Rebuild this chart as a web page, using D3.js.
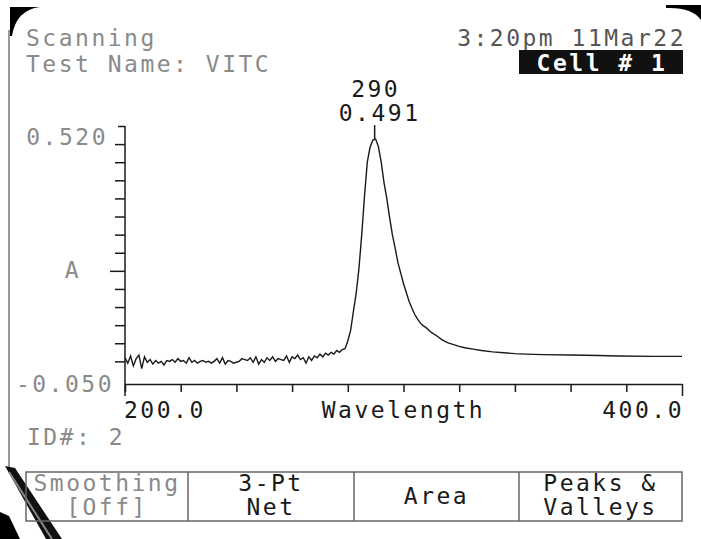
<!DOCTYPE html>
<html>
<head>
<meta charset="utf-8">
<script src="https://cdn.jsdelivr.net/npm/d3@7/dist/d3.min.js"></script>
<style>
  html, body { margin: 0; padding: 0; background: #fff; }
  svg { display: block; }
  text { font-family: "DejaVu Sans Mono", "Liberation Mono", monospace; font-size: 23px; letter-spacing: 2.5px; }
</style>
</head>
<body>
<svg id="chart" width="701" height="539"></svg>
<script>
// ---------- data ----------
const wavelengths = [
  200,201,202,203,204,205,206,207,208,209,210,211,212,213,214,215,216,217,218,219,
  220,221,222,223,224,225,226,227,228,229,230,231,232,233,234,235,236,237,238,239,
  240,241,242,243,244,245,246,247,248,249,250,251,252,253,254,255,256,257,258,259,
  260,261,262,263,264,265,266,267,268,269,270,271,272,273,274,275,276,277,278,279,
  280,281,282,283,284,285,286,287,288,289,290,291,292,293,294,295,296,297,298,299,
  300,301,302,303,304,305,306,307,308,310,312,314,316,318,320,322,325,328,332,336,
  340,344,350,360,370,377,390,400
];
const absorbance = [
  0.008,-0.004,0.012,-0.010,0.006,0.014,-0.016,0.010,-0.002,0.004,-0.006,0.002,-0.004,0.000,-0.008,0.002,0.000,0.004,-0.002,0.006,
  0.000,0.002,-0.004,0.008,-0.002,0.002,-0.004,0.000,0.002,-0.002,0.000,-0.004,0.000,0.006,-0.004,0.008,-0.006,0.002,0.000,-0.004,
  -0.002,0.000,0.006,0.004,0.002,0.008,-0.002,0.010,-0.006,0.004,-0.002,0.008,0.002,0.010,0.000,0.006,0.004,0.002,0.012,-0.002,
  0.010,0.006,0.014,0.004,0.008,-0.004,0.010,0.002,0.012,0.008,0.016,0.010,0.018,0.014,0.020,0.016,0.024,0.020,0.026,0.028,
  0.045,0.068,0.110,0.150,0.205,0.280,0.365,0.440,0.473,0.489,0.491,0.474,0.440,0.395,0.360,0.318,0.280,0.250,0.218,0.195,
  0.172,0.152,0.133,0.118,0.104,0.094,0.085,0.079,0.075,0.064,0.056,0.047,0.041,0.037,0.033,0.030,0.027,0.024,0.021,0.019,
  0.017,0.016,0.015,0.014,0.013,0.012,0.011,0.011
];
const xTickValues = [200,220,240,260,280,300,320,340,360,380,400];
const yTickValues = [0,0.04,0.08,0.12,0.16,0.20,0.24,0.28,0.32,0.36,0.40,0.44,0.48,0.52];
const yLongTick = [0.20];
const xEndLabels = ["200.0","400.0"];
const yEndLabels = ["0.520","-0.050"];
const xTitle = "Wavelength";
const yTitle = "A";
const peakWavelength = 290;
const peakLabel = ["290","0.491"];
const headerLeft = ["Scanning","Test Name: VITC"];
const headerRight = "3:20pm 11Mar22";
const cellLabel = "Cell # 1";
const idLabel = "ID#: 2";
const buttons = [["Smoothing","[Off]"],["3-Pt","Net"],["Area"],["Peaks &","Valleys"]];

// ---------- setup ----------
const svg = d3.select("#chart");
const x = d3.scaleLinear().domain([200,400]).range([125,682]);
const y = d3.scaleLinear().domain([-0.05,0.52]).range([384,126]);
const ink = "#1a1a1a";
const grey = "#8a8a8a";

// bezel decorations
svg.append("path").attr("d","M10,7 L40,7 Q16,10 12,36 L10,36 Z").attr("fill","#000");
svg.append("path").attr("d","M666,5 L701,5 L701,20 Q692,7 666,8 Z").attr("fill","#000");
svg.append("line").attr("x1",9).attr("x2",9).attr("y1",30).attr("y2",470).attr("stroke","#777").attr("stroke-width",1.5);
svg.append("path").attr("d","M5,466 L15,468 L62,539 L46,539 Z").attr("fill","#111");
svg.append("path").attr("d","M9,472 L52,539").attr("stroke","#888").attr("stroke-width",2);
svg.append("path").attr("d","M0,512 L9,516 L20,539 L0,539 Z").attr("fill","#000");

// header
const hl = svg.append("g").attr("fill",grey).style("font-size","22px").style("letter-spacing","3px");
hl.append("text").attr("x",26).attr("y",46).text(headerLeft[0]);
hl.append("text").attr("x",26).attr("y",72).text(headerLeft[1]);
svg.append("text").attr("x",686).attr("y",46).attr("text-anchor","end").attr("fill","#555").text(headerRight);
svg.append("rect").attr("x",519).attr("y",50).attr("width",164).attr("height",24).attr("fill","#111");
svg.append("text").attr("x",602).attr("y",71).attr("text-anchor","middle").attr("fill","#fff")
  .attr("font-weight","bold").text(cellLabel);

// y axis
const yAxis = d3.axisLeft(y).tickValues(yTickValues).tickSize(10).tickSizeOuter(0).tickFormat("");
const gy = svg.append("g").attr("transform",`translate(${x(200)},0)`).call(yAxis);
gy.selectAll("path,line").attr("stroke",ink).attr("stroke-width",1.5);
gy.selectAll(".tick").filter(d => yLongTick.includes(d)).select("line").attr("x2",-15);
gy.selectAll(".tick").filter(d => d === 0.52).select("line").attr("x2",-7);
gy.select(".domain").attr("d",`M0,${y(0.52)}V${y(-0.05)+12}`);

// x axis
const xAxis = d3.axisBottom(x).tickValues(xTickValues).tickSize(8).tickSizeOuter(0).tickFormat("");
const gx = svg.append("g").attr("transform",`translate(0,${y(-0.05)})`).call(xAxis);
gx.selectAll("path,line").attr("stroke",ink).attr("stroke-width",1.5);
gx.selectAll(".tick").filter(d => d === 400).select("line").attr("y2",12);

// axis labels
svg.append("text").attr("x",x(200)-17).attr("y",y(0.52)+19).attr("text-anchor","end").attr("fill",grey).text(yEndLabels[0]);
svg.append("text").attr("x",x(200)-11).attr("y",y(-0.05)+8).attr("text-anchor","end").attr("fill",grey).text(yEndLabels[1]);
svg.append("text").attr("x",x(200)-52).attr("y",y(0.2)+7).attr("text-anchor","middle").attr("fill",grey).text(yTitle);
svg.append("text").attr("x",x(200)-1).attr("y",418).attr("fill",ink).text(xEndLabels[0]);
svg.append("text").attr("x",x(400)+2).attr("y",418).attr("text-anchor","end").attr("fill",ink).text(xEndLabels[1]);
svg.append("text").attr("x",x(300)).attr("y",418).attr("text-anchor","middle").attr("fill",ink).text(xTitle);
svg.append("text").attr("x",27).attr("y",445).attr("fill",grey).text(idLabel);

// spectrum
const data = wavelengths.map((w,i) => ({w, a: absorbance[i]}));
const line = d3.line().x(d => x(d.w)).y(d => y(d.a)).curve(d3.curveLinear);
svg.append("path").datum(data).attr("d",line).attr("fill","none").attr("stroke",ink).attr("stroke-width",1.4);

// peak annotation
const peakA = absorbance[wavelengths.indexOf(peakWavelength)];
svg.append("line").attr("x1",x(peakWavelength)-1).attr("x2",x(peakWavelength)-1)
  .attr("y1",y(peakA)-14).attr("y2",y(peakA)).attr("stroke",ink).attr("stroke-width",1.5);
svg.append("text").attr("x",x(peakWavelength)).attr("y",97).attr("text-anchor","middle").attr("fill",ink).text(peakLabel[0]);
svg.append("text").attr("x",x(peakWavelength)+4).attr("y",121).attr("text-anchor","middle").attr("fill",ink).text(peakLabel[1]);

// soft-key bar
const bx = [26,188,354,519,682];
const bar = svg.append("g");
bar.append("rect").attr("x",bx[0]).attr("y",472).attr("width",bx[4]-bx[0]).attr("height",49)
  .attr("fill","none").attr("stroke","#666").attr("stroke-width",1.5);
for (let i = 1; i < 4; i++) {
  bar.append("line").attr("x1",bx[i]).attr("x2",bx[i]).attr("y1",472).attr("y2",521).attr("stroke","#666").attr("stroke-width",1.5);
}
buttons.forEach((lines,i) => {
  const cx = (bx[i]+bx[i+1])/2;
  const col = i === 0 ? grey : ink;
  if (lines.length === 1) {
    bar.append("text").attr("x",cx).attr("y",504).attr("text-anchor","middle").attr("fill",col).text(lines[0]);
  } else {
    bar.append("text").attr("x",cx).attr("y",491).attr("text-anchor","middle").attr("fill",col).text(lines[0]);
    bar.append("text").attr("x",cx).attr("y",515).attr("text-anchor","middle").attr("fill",col).text(lines[1]);
  }
});
</script>
</body>
</html>
